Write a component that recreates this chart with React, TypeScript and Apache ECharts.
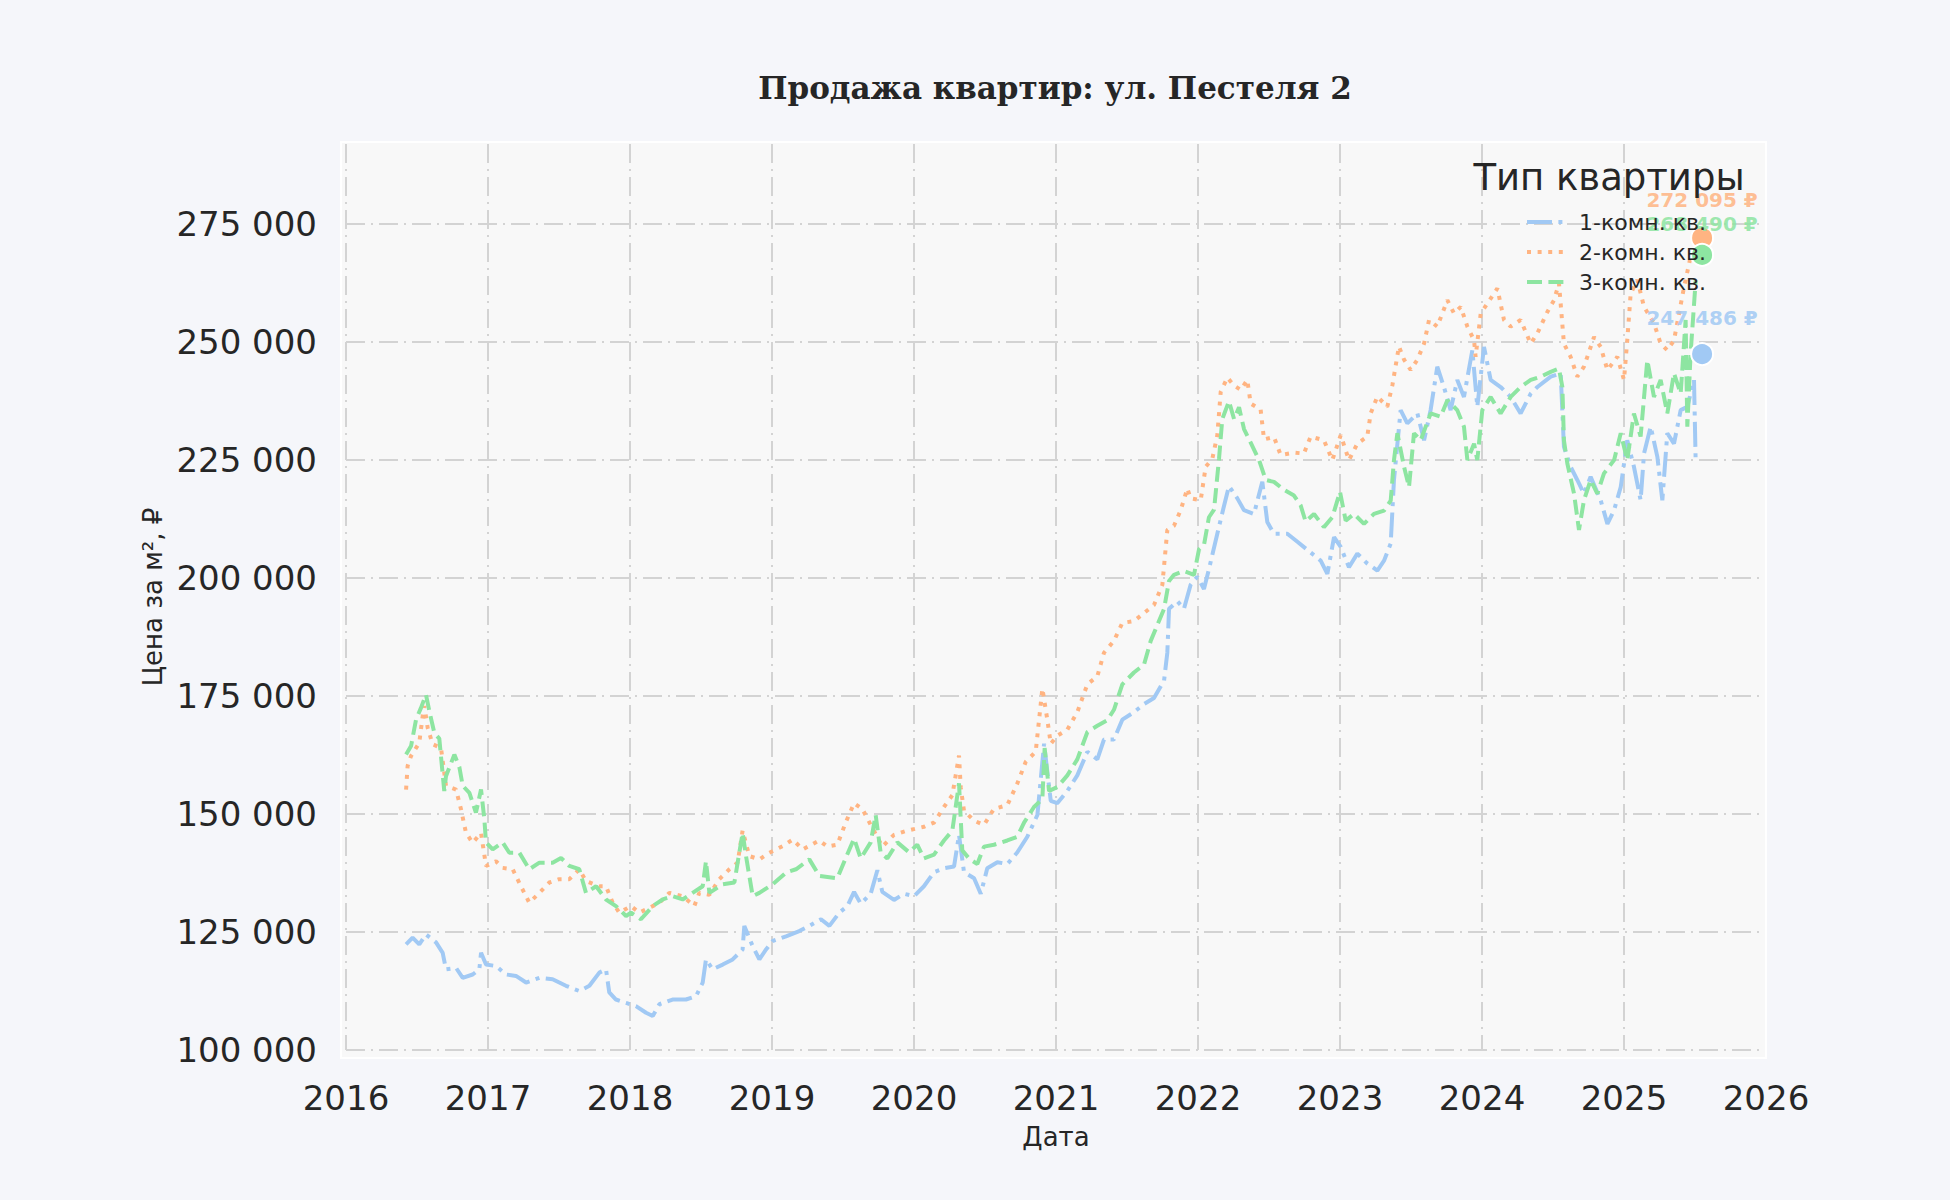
import React, { useEffect, useRef } from "react";
import * as echarts from "echarts";

// даты в долях года, цены за м² в рублях
const oneRoom: [number, number][] = [
  [2016.423, 122400], [2016.469, 123800], [2016.516, 122400], [2016.563, 124500], [2016.634, 122800],
  [2016.681, 120600], [2016.704, 117100], [2016.775, 117400], [2016.822, 115300], [2016.892, 116000],
  [2016.939, 117100], [2016.951, 120600], [2016.986, 118100], [2017.056, 117800], [2017.127, 116000],
  [2017.197, 115700], [2017.268, 114300], [2017.362, 115300], [2017.455, 115000], [2017.549, 113600],
  [2017.643, 112500], [2017.714, 113600], [2017.784, 116400], [2017.831, 117100], [2017.854, 112200],
  [2017.901, 110700], [2017.972, 110000], [2018.042, 109300], [2018.113, 107900], [2018.16, 107200],
  [2018.207, 109700], [2018.3, 110700], [2018.394, 110700], [2018.465, 111400], [2018.512, 114300],
  [2018.535, 119200], [2018.582, 117100], [2018.653, 118100], [2018.723, 119200], [2018.793, 121300],
  [2018.805, 126300], [2018.864, 122000], [2018.911, 119200], [2018.958, 121300], [2019.005, 123100],
  [2019.099, 124100], [2019.192, 125200], [2019.263, 126300], [2019.345, 127700], [2019.404, 126300],
  [2019.474, 129100], [2019.531, 130500], [2019.578, 133500], [2019.625, 131000], [2019.695, 133100],
  [2019.742, 138100], [2019.777, 133500], [2019.859, 131800], [2019.93, 133100], [2020.0, 132600],
  [2020.07, 134700], [2020.141, 137700], [2020.211, 138500], [2020.282, 138900], [2020.317, 145600],
  [2020.352, 137700], [2020.423, 136400], [2020.47, 133100], [2020.516, 138500], [2020.587, 139800],
  [2020.657, 139400], [2020.728, 141900], [2020.798, 145200], [2020.869, 149800], [2020.916, 164900],
  [2020.963, 152800], [2021.009, 152300], [2021.08, 154900], [2021.15, 158200], [2021.221, 163200],
  [2021.291, 161600], [2021.338, 165800], [2021.408, 165800], [2021.467, 170000], [2021.549, 171600],
  [2021.62, 173300], [2021.69, 174600], [2021.761, 178300], [2021.784, 184200], [2021.796, 193500],
  [2021.855, 195100], [2021.901, 193500], [2021.948, 198600], [2021.995, 200300], [2022.042, 197700],
  [2022.077, 201900], [2022.136, 209400], [2022.183, 215300], [2022.218, 219500], [2022.277, 216900],
  [2022.324, 214400], [2022.394, 213600], [2022.453, 220400], [2022.488, 211900], [2022.535, 209400],
  [2022.629, 209400], [2022.7, 207700], [2022.77, 206000], [2022.864, 203700], [2022.911, 200900],
  [2022.958, 208700], [2023.005, 206600], [2023.063, 202300], [2023.122, 205200], [2023.192, 203100],
  [2023.263, 201600], [2023.31, 203700], [2023.357, 207300], [2023.38, 220800], [2023.427, 235600],
  [2023.474, 232800], [2023.545, 234900], [2023.592, 229200], [2023.638, 235600], [2023.685, 244800],
  [2023.732, 240500], [2023.779, 235600], [2023.826, 242000], [2023.873, 238400], [2023.932, 248300],
  [2023.967, 236300], [2024.014, 249000], [2024.061, 242000], [2024.131, 240500], [2024.202, 238400],
  [2024.272, 234900], [2024.343, 239100], [2024.39, 240500], [2024.484, 242700], [2024.554, 243400],
  [2024.577, 227800], [2024.624, 223600], [2024.671, 220800], [2024.718, 217900], [2024.765, 221500],
  [2024.836, 216500], [2024.883, 211500], [2024.93, 214400], [2024.977, 219300], [2025.023, 229200],
  [2025.07, 223600], [2025.117, 216500], [2025.141, 226400], [2025.188, 232100], [2025.235, 225700],
  [2025.27, 216500], [2025.305, 230700], [2025.352, 228500], [2025.399, 235600], [2025.446, 236300],
  [2025.493, 242000], [2025.505, 224300],
];

const twoRoom: [number, number][] = [
  [2016.423, 155200], [2016.434, 160200], [2016.458, 162300], [2016.516, 165100], [2016.54, 170800],
  [2016.552, 172900], [2016.575, 168300], [2016.61, 164800], [2016.669, 164000], [2016.704, 156000],
  [2016.775, 155200], [2016.81, 151000], [2016.845, 146000], [2016.892, 143900], [2016.951, 146000],
  [2016.986, 139000], [2017.056, 140000], [2017.103, 138600], [2017.174, 138300], [2017.232, 134700],
  [2017.291, 131200], [2017.362, 133300], [2017.432, 135500], [2017.502, 136200], [2017.573, 136200],
  [2017.643, 138300], [2017.69, 135800], [2017.784, 134700], [2017.831, 134700], [2017.878, 131200],
  [2017.925, 129100], [2018.007, 130500], [2018.066, 129100], [2018.113, 129800], [2018.207, 131200],
  [2018.277, 133300], [2018.371, 132600], [2018.453, 130500], [2018.488, 133300], [2018.559, 132900],
  [2018.629, 136200], [2018.7, 138300], [2018.758, 139700], [2018.793, 146500], [2018.84, 141100],
  [2018.911, 140400], [2018.981, 141800], [2019.075, 143200], [2019.146, 144600], [2019.216, 142500],
  [2019.333, 144400], [2019.39, 143100], [2019.46, 143500], [2019.519, 148200], [2019.578, 152300],
  [2019.636, 151100], [2019.695, 147700], [2019.777, 143100], [2019.859, 145600], [2019.953, 146500],
  [2020.07, 147300], [2020.141, 148200], [2020.211, 151500], [2020.27, 154000], [2020.317, 162400],
  [2020.329, 155700], [2020.352, 150700], [2020.423, 148600], [2020.493, 147700], [2020.563, 151100],
  [2020.657, 151900], [2020.728, 156500], [2020.787, 161100], [2020.857, 163200], [2020.904, 176600],
  [2020.939, 170000], [2020.963, 164900], [2021.009, 166600], [2021.08, 167900], [2021.15, 171600],
  [2021.221, 177500], [2021.291, 179200], [2021.338, 184200], [2021.408, 186700], [2021.467, 190500],
  [2021.549, 190900], [2021.62, 192600], [2021.69, 194300], [2021.749, 198600], [2021.784, 210200],
  [2021.831, 211100], [2021.878, 214400], [2021.925, 219000], [2021.948, 216900], [2022.019, 216500],
  [2022.054, 223600], [2022.101, 225300], [2022.136, 230300], [2022.16, 239500], [2022.207, 242500],
  [2022.254, 240800], [2022.301, 239900], [2022.347, 242000], [2022.371, 237000], [2022.441, 235700],
  [2022.465, 229400], [2022.535, 229900], [2022.582, 226100], [2022.676, 226600], [2022.746, 226400],
  [2022.793, 230000], [2022.887, 229200], [2022.946, 225000], [2023.005, 230300], [2023.063, 225000],
  [2023.122, 228500], [2023.192, 230000], [2023.216, 234900], [2023.263, 238500], [2023.333, 236300],
  [2023.369, 240900], [2023.415, 249100], [2023.451, 246300], [2023.498, 244100], [2023.545, 246300],
  [2023.592, 249700], [2023.627, 254700], [2023.685, 253300], [2023.756, 258900], [2023.803, 256100],
  [2023.85, 257500], [2023.897, 253300], [2023.944, 250400], [2023.955, 246900], [2023.991, 256100],
  [2024.038, 258200], [2024.108, 261400], [2024.155, 254700], [2024.202, 253300], [2024.272, 254700],
  [2024.343, 249700], [2024.39, 251900], [2024.46, 256400], [2024.507, 258900], [2024.542, 262500],
  [2024.577, 249700], [2024.624, 246900], [2024.671, 242700], [2024.718, 244800], [2024.789, 251100],
  [2024.836, 249000], [2024.883, 244100], [2024.953, 246900], [2025.0, 242000], [2025.023, 250400],
  [2025.047, 260300], [2025.094, 263200], [2025.141, 257500], [2025.211, 254000], [2025.258, 249700],
  [2025.305, 248300], [2025.352, 250400], [2025.423, 261700], [2025.469, 268100], [2025.505, 270300],
];

const threeRoom: [number, number][] = [
  [2016.423, 162600], [2016.458, 164400], [2016.493, 170000], [2016.528, 172500], [2016.563, 175300],
  [2016.587, 171800], [2016.622, 167200], [2016.657, 166000], [2016.692, 154900], [2016.704, 158000],
  [2016.763, 162600], [2016.798, 160000], [2016.822, 156000], [2016.869, 154500], [2016.915, 150300],
  [2016.951, 155200], [2016.974, 149000], [2016.986, 144000], [2017.033, 142500], [2017.103, 144000],
  [2017.15, 141800], [2017.221, 141800], [2017.291, 138300], [2017.362, 139700], [2017.455, 139700],
  [2017.514, 140700], [2017.573, 139000], [2017.643, 138300], [2017.69, 133300], [2017.761, 134700],
  [2017.831, 131900], [2017.901, 130500], [2017.972, 128400], [2018.007, 129100], [2018.077, 127700],
  [2018.16, 130500], [2018.23, 131900], [2018.3, 132600], [2018.371, 131900], [2018.441, 133300],
  [2018.512, 134700], [2018.535, 140000], [2018.559, 133300], [2018.653, 135100], [2018.735, 135500],
  [2018.793, 146000], [2018.817, 141100], [2018.864, 132600], [2018.911, 133300], [2019.005, 135100],
  [2019.099, 137600], [2019.169, 138300], [2019.263, 140400], [2019.333, 136900], [2019.46, 136400],
  [2019.507, 139800], [2019.578, 144800], [2019.625, 140600], [2019.695, 144000], [2019.73, 149800],
  [2019.765, 141900], [2019.812, 140600], [2019.883, 144000], [2019.965, 141900], [2020.023, 143500],
  [2020.07, 140600], [2020.141, 141400], [2020.211, 144400], [2020.27, 146500], [2020.317, 156500],
  [2020.34, 142300], [2020.387, 140600], [2020.446, 139400], [2020.493, 143100], [2020.563, 143500],
  [2020.657, 144400], [2020.728, 145200], [2020.775, 148200], [2020.845, 151500], [2020.904, 153200],
  [2020.92, 164000], [2020.951, 154900], [2021.009, 155700], [2021.08, 158200], [2021.15, 161600],
  [2021.221, 167400], [2021.291, 168700], [2021.362, 169900], [2021.408, 172100], [2021.467, 177500],
  [2021.549, 180000], [2021.62, 181700], [2021.667, 186700], [2021.714, 190100], [2021.761, 193500],
  [2021.796, 199400], [2021.831, 200700], [2021.901, 201500], [2021.972, 200700], [2022.007, 206100],
  [2022.042, 207000], [2022.077, 212900], [2022.113, 214500], [2022.148, 225300], [2022.171, 233700],
  [2022.218, 237500], [2022.254, 233700], [2022.289, 236200], [2022.324, 231600], [2022.371, 228700],
  [2022.43, 225000], [2022.477, 220800], [2022.535, 220400], [2022.606, 218700], [2022.676, 217500],
  [2022.723, 215400], [2022.758, 212000], [2022.817, 213600], [2022.887, 210800], [2022.946, 212900],
  [2023.0, 218300], [2023.04, 212200], [2023.099, 213600], [2023.169, 211500], [2023.239, 213600],
  [2023.31, 214300], [2023.357, 216400], [2023.38, 225000], [2023.404, 230700], [2023.451, 223600],
  [2023.486, 219300], [2023.521, 230700], [2023.568, 229200], [2023.638, 234900], [2023.709, 234200],
  [2023.756, 237700], [2023.826, 235600], [2023.873, 232100], [2023.897, 225000], [2023.944, 228500],
  [2023.967, 225000], [2024.002, 235600], [2024.061, 238400], [2024.131, 234900], [2024.202, 238400],
  [2024.272, 240500], [2024.343, 242000], [2024.413, 242700], [2024.484, 243700], [2024.542, 244400],
  [2024.566, 240500], [2024.577, 229200], [2024.601, 224300], [2024.648, 217900], [2024.683, 210200],
  [2024.718, 216500], [2024.765, 220800], [2024.812, 217900], [2024.859, 222200], [2024.93, 225000],
  [2024.977, 230700], [2025.023, 225000], [2025.07, 234900], [2025.117, 230000], [2025.164, 246200],
  [2025.211, 238400], [2025.258, 242000], [2025.305, 234900], [2025.352, 243400], [2025.399, 239100],
  [2025.434, 254700], [2025.446, 232100], [2025.469, 247600], [2025.505, 263100],
];

// последние цены (точки с подписями)
const lastDate = 2025.55;
const lastValues = [247486, 272095, 268490];

const seriesNames = ["1-комн. кв.", "2-комн. кв.", "3-комн. кв."];
const colors = ["#a1c9f4", "#ffb482", "#8de5a1"];
const dashes = [
  [25, 6.4, 4, 6.4],
  [4, 6.6],
  [15, 6.4],
];
const labelGaps = [15, 17, 10];

const fmt = (v: number) => String(v).replace(/\B(?=(\d{3})+(?!\d))/g, " ");

const gridStyle = {
  color: "#d3d3d3",
  width: 2,
  type: [19, 6, 2, 6],
};

const App = () => {
  const chartRef = useRef<HTMLDivElement>(null);

  useEffect(() => {
    const chart = echarts.init(chartRef.current, null, { renderer: "svg" });
    const lines = [oneRoom, twoRoom, threeRoom];

    chart.setOption({
      animation: false,
      backgroundColor: "#f5f6fa",
      textStyle: { fontFamily: "DejaVu Sans" },
      title: {
        text: "Продажа квартир: ул. Пестеля 2",
        left: 1050,
        top: 67,
        textAlign: "center",
        textStyle: {
          fontFamily: "DejaVu Serif",
          fontWeight: "bold",
          fontSize: 31,
          color: "#262626",
        },
      },
      graphic: [
        {
          type: "rect",
          z: -1,
          shape: { x: 341, y: 142, width: 1425, height: 916 },
          style: { fill: "#f8f8f8" },
        },
        {
          type: "rect",
          z: 1,
          shape: { x: 341, y: 142, width: 1425, height: 916 },
          style: { fill: "none", stroke: "#ffffff", lineWidth: 2 },
        },
        {
          type: "text",
          z: 50,
          x: 1609,
          y: 177,
          style: {
            text: "Тип квартиры",
            fontFamily: "DejaVu Sans",
            fontSize: 37,
            fill: "#262626",
            textAlign: "center",
            textVerticalAlign: "middle",
          },
        },
      ],
      legend: {
        data: seriesNames,
        orient: "vertical",
        left: 1520,
        top: 206,
        itemWidth: 38,
        itemHeight: 14,
        itemGap: 8,
        itemStyle: { opacity: 0 },
        lineStyle: { width: 4 },
        textStyle: { fontSize: 22, color: "#262626", padding: [0, 0, 0, 9] },
        z: 50,
      },
      grid: { left: 346, right: 184, top: 144, bottom: 150 },
      xAxis: {
        type: "value",
        min: 2016,
        max: 2026,
        interval: 1,
        name: "Дата",
        nameLocation: "middle",
        nameGap: 74,
        nameTextStyle: { fontSize: 26, color: "#262626" },
        axisLine: { show: false },
        axisTick: { show: false },
        axisLabel: { fontSize: 34, color: "#262626", margin: 31, formatter: (v: number) => String(v) },
        splitLine: { show: true, showMaxLine: false, lineStyle: gridStyle },
      },
      yAxis: {
        type: "value",
        min: 100000,
        max: 292000,
        interval: 25000,
        name: "Цена за м², ₽",
        nameLocation: "middle",
        nameGap: 180,
        nameTextStyle: { fontSize: 26, color: "#262626" },
        axisLine: { show: false },
        axisTick: { show: false },
        axisLabel: {
          fontSize: 34,
          color: "#262626",
          margin: 29,
          formatter: (v: number) => (v % 25000 === 0 ? fmt(v) : ""),
        },
        splitLine: { show: true, showMaxLine: false, lineStyle: gridStyle },
      },
      series: [
        ...lines.map((d, i) => ({
          name: seriesNames[i],
          type: "line",
          data: d,
          symbol: "none",
          z: 2 + i,
          lineStyle: { color: colors[i], width: 4, type: dashes[i], cap: "butt" },
          itemStyle: { color: colors[i] },
        })),
        ...lastValues.map((v, i) => ({
          name: seriesNames[i] + " последняя",
          type: "scatter",
          data: [[lastDate, v]],
          symbolSize: 22,
          z: 10,
          itemStyle: { color: colors[i], borderColor: "#ffffff", borderWidth: 2, opacity: 1 },
          label: {
            show: true,
            position: "top",
            distance: labelGaps[i] - 1,
            formatter: fmt(v) + " ₽",
            color: colors[i],
            opacity: 0.85,
            fontSize: 20,
            fontWeight: "bold",
          },
        })),
      ],
    });

    return () => {
      chart.dispose();
    };
  }, []);

  return (
    <div
      ref={chartRef}
      style={{ position: "absolute", left: 0, top: 0, width: "1950px", height: "1200px" }}
    ></div>
  );
};

export default App;
